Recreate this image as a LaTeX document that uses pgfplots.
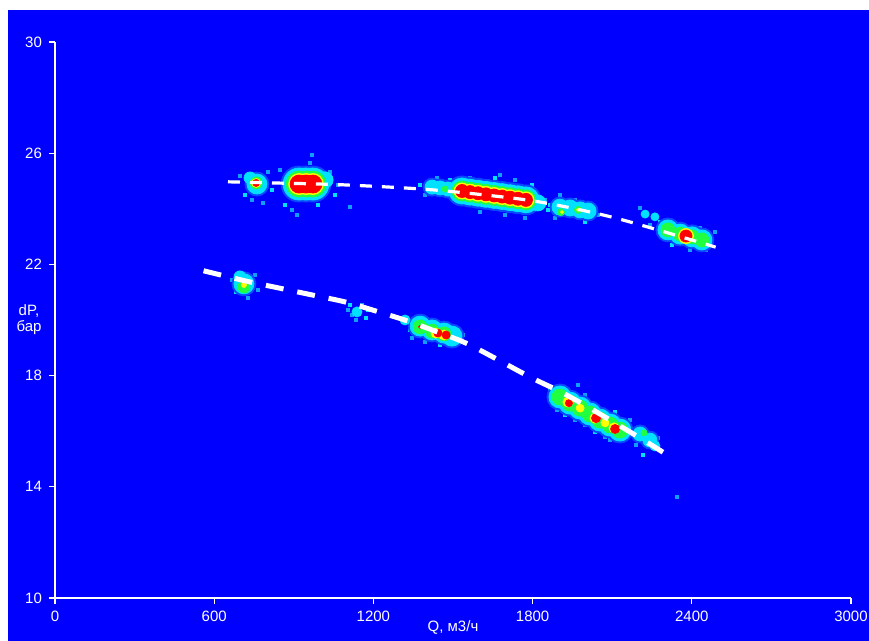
\documentclass[border=0pt]{standalone}
\usepackage{fontspec}
\setmainfont{Liberation Sans}
\usepackage{pgfplots}
\usepackage{pgfplotstable}
\pgfplotsset{compat=1.18}

\definecolor{hb}{HTML}{0A48FF}
\definecolor{lb}{HTML}{0FA0FF}
\definecolor{cy}{HTML}{00E0FF}
\definecolor{gr}{HTML}{20FF40}
\definecolor{ye}{HTML}{FFFF00}
\definecolor{rd}{HTML}{FF0000}

% density blobs: x y class size(pt)
\pgfplotstableread{
x y c s
697 25.18 p 0.75
716 24.50 q 0.75
742 24.32 p 0.75
803 25.32 p 0.75
818 24.68 q 0.75
784 24.21 p 0.75
848 25.40 p 0.75
867 24.14 q 0.75
893 23.96 p 0.75
961 25.65 p 0.75
991 24.14 q 0.75
1036 25.32 p 0.75
1067 24.86 p 0.75
1055 24.50 q 0.75
912 23.78 p 0.75
969 25.94 p 0.75
1112 24.06 p 0.75
1376 24.86 q 0.75
1394 24.50 p 0.75
1440 25.11 p 0.75
1489 25.04 q 0.75
1519 24.42 p 0.75
1564 25.11 p 0.75
1602 23.88 p 0.75
1658 25.11 q 0.75
1696 23.78 p 0.75
1734 25.04 p 0.75
1771 23.67 p 0.75
1798 24.86 q 0.75
1847 24.32 p 0.75
1858 23.96 q 0.75
1677 25.22 p 0.75
1903 24.50 p 0.75
1866 24.14 q 0.75
1884 23.67 p 0.75
2046 23.78 p 0.75
1997 23.53 q 0.75
1960 24.32 p 0.75
2205 24.03 p 0.75
2280 23.53 q 0.75
2242 23.42 p 0.75
2487 23.17 p 0.75
2476 22.88 q 0.75
2454 22.52 p 0.75
2393 22.52 p 0.75
2325 22.70 q 0.75
2431 23.31 p 0.75
667 21.44 p 0.75
682 21.01 q 0.75
754 21.62 p 0.75
765 21.08 p 0.75
727 20.79 p 0.75
1112 20.54 q 0.75
1119 20.18 p 0.75
1157 20.54 p 0.75
1172 20.07 q 0.75
1134 20.00 p 0.75
1104 20.36 p 0.75
1180 20.36 q 0.75
1308 20.07 p 0.75
1338 19.64 q 0.75
1345 19.35 p 0.75
1394 19.21 p 0.75
1451 19.10 q 0.75
1508 19.71 p 0.75
1526 19.28 q 0.75
1538 19.46 p 0.75
1413 20.00 p 0.75
1866 17.48 p 0.75
1873 17.12 q 0.75
1892 16.76 p 0.75
1922 16.58 q 0.75
1960 16.40 p 0.75
1997 16.22 p 0.75
2035 15.97 q 0.75
2073 15.79 p 0.75
2092 15.68 p 0.75
2148 15.76 q 0.75
2167 16.40 p 0.75
2111 16.69 q 0.75
1997 17.30 p 0.75
1971 17.66 p 0.75
2280 15.32 q 0.75
2273 15.76 p 0.75
2190 15.50 p 0.75
2216 15.14 q 0.75
2344 13.63 p 0.75
761 24.89 h 6
920 24.89 h 9
946 24.89 h 9
972 24.89 h 9
1534 24.64 h 7.5
1564 24.60 h 7.5
1594 24.56 h 7.5
1624 24.52 h 7.5
1655 24.48 h 7.5
1685 24.44 h 7.5
1715 24.40 h 7.5
1745 24.36 h 7.5
1775 24.32 h 7.5
1421 24.78 h 4.5
1451 24.75 h 4.5
1481 24.71 h 4.5
1508 24.68 h 4.5
1903 24.06 h 5
1941 24.03 h 5
1979 23.96 h 5
2009 23.92 h 5
2310 23.24 h 6
2356 23.09 h 6
2401 22.99 h 6
2438 22.88 h 6
712 21.30 h 6
1376 19.78 h 6
1421 19.64 h 6
1466 19.53 h 6
1496 19.42 h 6
1903 17.23 h 6.5
1941 17.01 h 6.5
1979 16.83 h 6.5
2016 16.62 h 6.5
2054 16.40 h 6.5
2092 16.22 h 6.5
2129 16.04 h 6.5
2205 15.90 h 4.5
2242 15.68 h 4.5
761 24.89 c 5
735 25.11 c 3
920 24.89 c 8
946 24.89 c 8
972 24.89 c 8
1018 25.04 c 4
1534 24.64 c 6.5
1564 24.60 c 6.5
1594 24.56 c 6.5
1624 24.52 c 6.5
1655 24.48 c 6.5
1685 24.44 c 6.5
1715 24.40 c 6.5
1745 24.36 c 6.5
1775 24.32 c 6.5
1421 24.78 c 3.5
1451 24.75 c 3.5
1481 24.71 c 3.5
1508 24.68 c 3.5
1820 24.21 c 4
1903 24.06 c 4
1941 24.03 c 4
1979 23.96 c 4
2009 23.92 c 4
2224 23.81 c 2
2261 23.71 c 2
2310 23.24 c 5
2356 23.09 c 5
2401 22.99 c 5
2438 22.88 c 5
712 21.30 c 5
697 21.55 c 3
1138 20.29 c 2.5
1376 19.78 c 5
1421 19.64 c 5
1466 19.53 c 5
1496 19.42 c 5
1319 20.00 c 2.5
1903 17.23 c 5.5
1941 17.01 c 5.5
1979 16.83 c 5.5
2016 16.62 c 5.5
2054 16.40 c 5.5
2092 16.22 c 5.5
2129 16.04 c 5.5
2205 15.90 c 3.5
2242 15.68 c 3.5
2261 15.47 c 2.5
758 24.93 g 3
920 24.89 g 6.5
946 24.89 g 6.5
972 24.89 g 6.5
1534 24.64 g 5
1564 24.60 g 5
1594 24.56 g 5
1624 24.52 g 5
1655 24.48 g 5
1685 24.44 g 5
1715 24.40 g 5
1745 24.36 g 5
1775 24.32 g 5
1470 24.71 g 1.5
1907 23.88 g 1.75
1971 23.96 g 1.75
2310 23.24 g 3.5
2356 23.09 g 3.5
2401 22.99 g 3.5
2438 22.88 g 3.5
712 21.19 g 3
1376 19.75 g 3.5
1421 19.60 g 3.5
1466 19.50 g 3.5
1903 17.23 g 4
1941 17.01 g 4
1979 16.83 g 4
2016 16.62 g 4
2054 16.40 g 4
2092 16.22 g 4
2129 16.04 g 4
2220 15.94 g 1.5
758 24.93 y 2.25
920 24.89 y 5.25
946 24.89 y 5.25
972 24.89 y 5.25
1534 24.64 y 4
1564 24.60 y 4
1594 24.56 y 4
1624 24.52 y 4
1655 24.48 y 4
1685 24.44 y 4
1715 24.40 y 4
1745 24.36 y 4
1775 24.32 y 4
1911 23.88 y 0.75
1971 23.96 y 0.75
2378 23.02 y 3.75
712 21.26 y 1.25
1436 19.53 y 2.5
1466 19.46 y 2.5
1933 17.05 y 2.5
2035 16.47 y 2.5
2107 16.12 y 2.5
1979 16.83 y 2
2073 16.30 y 2
758 24.93 r 1.75
920 24.89 r 4.5
946 24.89 r 4.5
972 24.89 r 4.5
1534 24.64 r 3.25
1564 24.60 r 3.25
1594 24.56 r 3.25
1624 24.52 r 3.25
1655 24.48 r 3.25
1685 24.44 r 3.25
1715 24.40 r 3.25
1745 24.36 r 3.25
1775 24.32 r 3.25
2378 23.02 r 3
1443 19.53 r 2
1474 19.46 r 2
1376 19.75 r 0.75
1937 17.01 r 1.75
2039 16.47 r 2.25
2111 16.08 r 2.25
}\blobs

\begin{document}
\begin{tikzpicture}
\fill[white] (-27.5pt,-21.5pt) rectangle (407pt,299pt);
\fill[blue] (-23.5pt,-21.5pt) rectangle (407pt,294pt);
\begin{axis}[
  at={(0pt,0pt)}, anchor=south west,
  scale only axis, width=398pt, height=278pt,
  xmin=0, xmax=3000, ymin=10, ymax=30,
  clip marker paths=true,
  xtick={0,600,...,3000}, ytick={10,14,...,30},
  axis lines=left,
  axis line style={white, line width=0.6pt, -},
  tick style={white, line width=0.6pt},
  tick align=outside, major tick length=3pt,
  /pgf/number format/assume math mode=true,
  /pgf/number format/set thousands separator={},
  ticklabel style={text=white, font=\fontsize{7.5}{9}\selectfont},
  every axis x label/.style={at={(axis description cs:0.5,0)}, anchor=center, yshift=-14.5pt,
    text=white, font=\fontsize{7.5}{9}\selectfont},
  every axis y label/.style={at={(axis description cs:0,0.5)}, anchor=center, xshift=-13pt,
    align=center, text=white, font=\fontsize{7.5}{8}\selectfont},
  xlabel={Q, м3/ч},
  ylabel={dP,\\бар},
]
\addplot[scatter, only marks, scatter src=explicit symbolic,
  scatter/classes={
    p={mark=square*, lb},
    q={mark=square*, cy},
    h={mark=*, hb},
    c={mark=*, cy},
    g={mark=*, gr},
    y={mark=*, ye},
    r={mark=*, rd}},
  visualization depends on={\thisrow{s} \as \msz},
  scatter/@pre marker code/.append style={/tikz/mark size=\msz pt, /tikz/line width=0.1pt}]
  table[x=x, y=y, meta=c] {\blobs};

\addplot[white, line width=1.6pt, dash pattern=on 6pt off 5pt, smooth]
  coordinates {(652,24.97) (822,24.93) (1090,24.86) (1425,24.68) (1753,24.35)
               (1930,24.06) (2099,23.70) (2261,23.27) (2490,22.62)};
\addplot[white, line width=2.5pt, dash pattern=on 9pt off 7pt, smooth]
  coordinates {(560,21.77) (720,21.40) (844,21.15) (969,20.90) (1093,20.65)
               (1210,20.32) (1330,19.96) (1451,19.53) (1564,19.10) (1790,17.95)
               (1907,17.41) (2016,16.83) (2129,16.19) (2235,15.58) (2325,15.04)};
\end{axis}
\pgfresetboundingbox
\useasboundingbox (-27.5pt,-21.5pt) rectangle (407pt,299pt);
\end{tikzpicture}
\end{document}
